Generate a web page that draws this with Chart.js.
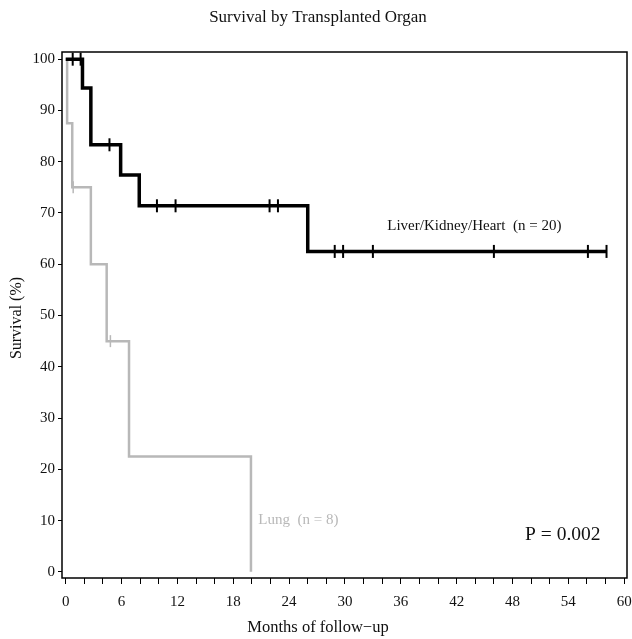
<!DOCTYPE html>
<html>
<head>
<meta charset="utf-8">
<script src="https://cdn.jsdelivr.net/npm/chart.js@4/dist/chart.umd.min.js"></script>
<style>
  html, body { margin: 0; padding: 0; background: #fff; }
  #wrap { width: 632px; height: 639px; }
</style>
</head>
<body>
<div id="wrap"><canvas id="kmChart" width="632" height="639"></canvas></div>
<script>
// Liver/Kidney/Heart group (n = 20)
const lkhTimes = [0, 1.8, 2.7, 5.9, 7.9, 26.0, 58.1];
const lkhSurv = [100, 94.4, 83.3, 77.4, 71.4, 62.5, 62.5];
const lkhCensored = [0.75, 1.6, 4.7, 9.8, 11.8, 21.9, 22.8, 28.9, 29.8, 33.0, 46.0, 56.1, 58.1];

// Lung group (n = 8)
const lungTimes = [0, 0.15, 0.7, 2.7, 4.4, 6.8, 19.9];
const lungSurv = [100, 87.5, 75, 60, 45, 22.5, 0];
const lungCensored = [0.8, 4.8];

const xTicks = [0, 2, 4, 6, 8, 10, 12, 14, 16, 18, 20, 22, 24, 26, 28, 30, 32, 34, 36, 38, 40, 42, 44, 46, 48, 50, 52, 54, 56, 58, 60];
const yTicks = [0, 10, 20, 30, 40, 50, 60, 70, 80, 90, 100];

const serif = "'Liberation Serif', 'DejaVu Serif', serif";

function toPoints(times, surv) {
  return times.map((t, i) => ({ x: t, y: surv[i] }));
}

// survival value of a step curve at time t
function survAt(times, surv, t) {
  let s = surv[0];
  for (let i = 0; i < times.length; i++) {
    if (times[i] <= t) s = surv[i];
  }
  return s;
}

function censorPoints(cens, times, surv) {
  return cens.map(t => ({ x: t, y: survAt(times, surv, t) }));
}

const textPlugin = {
  id: 'textPlugin',
  afterDraw(chart) {
    const ctx = chart.ctx;
    const a = chart.chartArea;
    const xs = chart.scales.x, ys = chart.scales.y;
    ctx.save();
    ctx.strokeStyle = '#000';
    ctx.lineWidth = 1.5;
    ctx.strokeRect(a.left, a.top, a.right - a.left, a.bottom - a.top);

    ctx.textAlign = 'center';
    ctx.textBaseline = 'middle';
    ctx.fillStyle = '#111';
    ctx.font = '17px ' + serif;
    ctx.fillText('Survival by Transplanted Organ', 318, 18);

    ctx.font = '16.5px ' + serif;
    ctx.fillText('Months of follow\u2212up', 318, 628);

    ctx.save();
    ctx.translate(17, 318);
    ctx.rotate(-Math.PI / 2);
    ctx.font = '16px ' + serif;
    ctx.fillText('Survival (%)', 0, 0);
    ctx.restore();

    ctx.font = '15px ' + serif;
    ctx.fillText('Liver/Kidney/Heart  (n = 20)', xs.getPixelForValue(43.9), ys.getPixelForValue(67.4));

    ctx.fillStyle = '#b8b8b8';
    ctx.fillText('Lung  (n = 8)', xs.getPixelForValue(25.0), ys.getPixelForValue(10.1));

    ctx.fillStyle = '#111';
    ctx.font = '19.5px ' + serif;
    ctx.fillText('P = 0.002', xs.getPixelForValue(53.4), ys.getPixelForValue(7.2));
    ctx.restore();
  }
};

let ctx = document.getElementById('kmChart').getContext('2d');
let myChart = new Chart(ctx, {
  type: 'line',
  data: {
    datasets: [{
      label: 'Liver/Kidney/Heart',
      data: toPoints(lkhTimes, lkhSurv),
      stepped: true,
      borderColor: '#000',
      borderWidth: 3.5,
      pointRadius: 0,
      fill: false
    }, {
      label: 'LKH censored',
      type: 'scatter',
      data: censorPoints(lkhCensored, lkhTimes, lkhSurv),
      showLine: false,
      pointStyle: 'line',
      rotation: 90,
      pointRadius: 6.5,
      pointBorderWidth: 2,
      borderColor: '#000',
      backgroundColor: '#000'
    }, {
      label: 'Lung',
      data: toPoints(lungTimes, lungSurv),
      stepped: true,
      borderColor: '#b8b8b8',
      borderWidth: 2.5,
      pointRadius: 0,
      fill: false
    }, {
      label: 'Lung censored',
      type: 'scatter',
      data: censorPoints(lungCensored, lungTimes, lungSurv),
      showLine: false,
      pointStyle: 'line',
      rotation: 90,
      pointRadius: 6,
      pointBorderWidth: 1.5,
      borderColor: '#b8b8b8',
      backgroundColor: '#b8b8b8'
    }]
  },
  options: {
    responsive: false,
    animation: false,
    events: [],
    layout: { autoPadding: false, padding: { top: 52, right: 5, left: 0, bottom: 0 } },
    plugins: {
      legend: { display: false },
      tooltip: { enabled: false },
      title: { display: false }
    },
    scales: {
      x: {
        type: 'linear',
        min: -0.4,
        max: 60.3,
        afterBuildTicks: s => { s.ticks = xTicks.map(v => ({ value: v })); },
        afterFit: s => { s.height = 61; s.paddingLeft = 0; s.paddingRight = 0; },
        grid: { display: true, drawOnChartArea: false, drawTicks: true, tickLength: 6, color: '#000', tickWidth: 1 },
        border: { display: false },
        ticks: {
          autoSkip: false,
          maxRotation: 0,
          padding: 9,
          color: '#111',
          font: { family: serif, size: 15 },
          callback: v => (v % 6 === 0 ? v : '')
        }
      },
      y: {
        type: 'linear',
        min: -1.2,
        max: 101.4,
        afterBuildTicks: s => { s.ticks = yTicks.map(v => ({ value: v })); },
        afterFit: s => { s.width = 62; s.paddingTop = 0; s.paddingBottom = 0; },
        grid: { display: true, drawOnChartArea: false, drawTicks: true, tickLength: 4, color: '#000', tickWidth: 1 },
        border: { display: false },
        ticks: {
          padding: 3,
          color: '#111',
          font: { family: serif, size: 15 }
        }
      }
    }
  },
  plugins: [textPlugin]
});
</script>
</body>
</html>
